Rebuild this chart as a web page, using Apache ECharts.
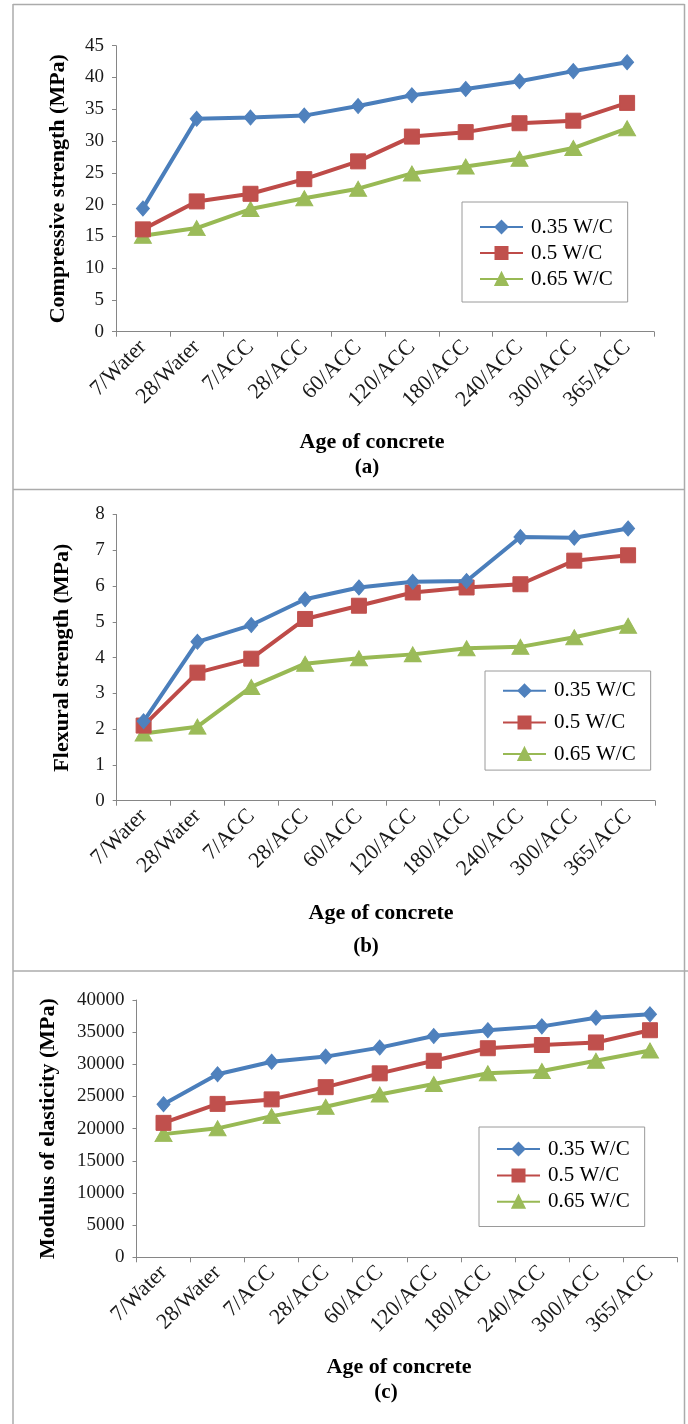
<!DOCTYPE html>
<html>
<head>
<meta charset="utf-8">
<script src="https://cdn.jsdelivr.net/npm/echarts@6/dist/echarts.min.js"></script>
<style>html,body{margin:0;padding:0;background:#fff;}#chart{width:688px;height:1424px;}</style>
</head>
<body>
<div id="chart"></div>
<script>
const categories = ['7/Water','28/Water','7/ACC','28/ACC','60/ACC','120/ACC','180/ACC','240/ACC','300/ACC','365/ACC'];
const seriesNames = ['0.35 W/C','0.5 W/C','0.65 W/C'];

const compressive035 = [19.4, 33.5, 33.7, 34.0, 35.5, 37.2, 38.2, 39.4, 41.0, 42.4];
const compressive05  = [16.1, 20.5, 21.7, 24.0, 26.8, 30.7, 31.4, 32.8, 33.2, 36.0];
const compressive065 = [15.1, 16.3, 19.3, 21.0, 22.5, 24.9, 26.0, 27.2, 28.9, 32.0];

const flexural035 = [2.22, 4.44, 4.91, 5.63, 5.96, 6.12, 6.14, 7.37, 7.35, 7.61];
const flexural05  = [2.10, 3.58, 3.97, 5.08, 5.45, 5.82, 5.96, 6.05, 6.71, 6.86];
const flexural065 = [1.88, 2.07, 3.18, 3.83, 3.98, 4.09, 4.26, 4.30, 4.57, 4.89];

const modulus035 = [23800, 28450, 30400, 31200, 32600, 34400, 35300, 35900, 37250, 37770];
const modulus05  = [20900, 23850, 24550, 26450, 28600, 30550, 32500, 33000, 33400, 35300];
const modulus065 = [19150, 20050, 21950, 23400, 25300, 26950, 28600, 28950, 30550, 32150];

const yTitles = ['Compressive strength (MPa)', 'Flexural strength (MPa)', 'Modulus of elasticity (MPa)'];
const xTitle = 'Age of concrete';
const panelTags = ['(a)', '(b)', '(c)'];
const yMax = [45, 8, 40000];
const yInterval = [5, 1, 5000];

const lineColors = ['#4A7EBB', '#BE4B48', '#98B954'];
const markColors = ['#4F81BD', '#C0504D', '#9BBB59'];
const symbols = ['diamond', 'rect', 'triangle'];
const symSizes = [[13, 15], 15, [17, 15]];
const FONT = '"Liberation Serif", "Times New Roman", serif';

const panelData = [
  [compressive035, compressive05, compressive065],
  [flexural035, flexural05, flexural065],
  [modulus035, modulus05, modulus065]
];

const grids = [
  {left: 116, width: 538, top: 45.7, height: 286},
  {left: 116.7, width: 538.3, top: 514.5, height: 286.2},
  {left: 136.5, width: 540.5, top: 1000, height: 257.3}
];
const yNameGap = [47, 43, 77];
const legendPos = [
  {left: 462, top: 202, gap: 5, padT: 14.5, padB: 12.5},
  {left: 485, top: 671, gap: 10.7, padT: 9.2, padB: 5.5},
  {left: 479, top: 1127, gap: 5.4, padT: 11.5, padB: 14.2}
];
const xTitlePos = [[372, 442], [381, 913], [399, 1367]];
const tagPos = [[367, 468], [366, 947], [386, 1393]];

const xAxes = [], yAxes = [], series = [], legends = [], graphics = [];
for (let p = 0; p < 3; p++) {
  xAxes.push({
    type: 'category', gridIndex: p, data: categories, boundaryGap: true,
    axisLine: {lineStyle: {color: '#868686', width: 1}},
    axisTick: {show: true, length: 5, lineStyle: {color: '#868686'}},
    axisLabel: {rotate: 45, margin: 12, color: '#1a1a1a', fontFamily: FONT, fontSize: 22, interval: 0}
  });
  yAxes.push({
    type: 'value', gridIndex: p, min: 0, max: yMax[p], interval: yInterval[p],
    name: yTitles[p], nameLocation: 'middle', nameGap: yNameGap[p], nameRotate: 90,
    nameTextStyle: {fontFamily: FONT, fontWeight: 'bold', fontSize: 22, color: '#000'},
    axisLine: {show: true, lineStyle: {color: '#868686', width: 1}},
    axisTick: {show: true, length: 4, lineStyle: {color: '#868686'}},
    axisLabel: {margin: 12, color: '#1a1a1a', fontFamily: FONT, fontSize: 19, formatter: function (v) { return String(v); }},
    splitLine: {show: false}
  });
  const names = [];
  for (let s = 0; s < 3; s++) {
    const nm = seriesNames[s] + (p === 0 ? '' : '\u200B'.repeat(p));
    names.push(nm);
    series.push({
      type: 'line', name: nm, xAxisIndex: p, yAxisIndex: p, data: panelData[p][s],
      symbol: symbols[s], symbolSize: symSizes[s], showAllSymbol: true,
      lineStyle: {color: lineColors[s], width: 4},
      itemStyle: {color: markColors[s], borderColor: markColors[s], borderWidth: 1},
      emphasis: {disabled: true}, animation: false, z: 3 - s + 2
    });
  }
  const lp = legendPos[p];
  legends.push({
    data: names,
    orient: 'vertical', left: lp.left, top: lp.top,
    itemWidth: 43, itemHeight: 15, itemGap: lp.gap,
    padding: [lp.padT, 15, lp.padB, 17],
    borderColor: '#9a9a9a', borderWidth: 1, backgroundColor: '#fff',
    selectedMode: false,
    textStyle: {fontFamily: FONT, fontSize: 21, color: '#000', padding: [0, 0, 0, 3]},
    formatter: function (n) { return n.replace(/\u200B/g, ''); }
  });
  graphics.push({
    type: 'text', x: xTitlePos[p][0], y: xTitlePos[p][1],
    style: {text: xTitle, font: 'bold 22px ' + FONT, fill: '#000', textAlign: 'center', textVerticalAlign: 'middle'}
  });
  graphics.push({
    type: 'text', x: tagPos[p][0], y: tagPos[p][1],
    style: {text: panelTags[p], font: 'bold 21px ' + FONT, fill: '#000', textAlign: 'center', textVerticalAlign: 'middle'}
  });
}

const border = {stroke: '#ababab', lineWidth: 1.5};
graphics.push({type: 'line', shape: {x1: 13, y1: 4, x2: 13, y2: 1424}, style: border});
graphics.push({type: 'line', shape: {x1: 684.5, y1: 4, x2: 684.5, y2: 1424}, style: border});
graphics.push({type: 'line', shape: {x1: 13, y1: 4.5, x2: 684.5, y2: 4.5}, style: border});
graphics.push({type: 'line', shape: {x1: 13, y1: 489.5, x2: 684.5, y2: 489.5}, style: border});
graphics.push({type: 'line', shape: {x1: 13, y1: 971, x2: 688, y2: 971}, style: border});

const chart = echarts.init(document.getElementById('chart'), null, {renderer: 'canvas'});
chart.setOption({
  animation: false,
  backgroundColor: '#fff',
  grid: grids,
  xAxis: xAxes,
  yAxis: yAxes,
  legend: legends,
  series: series,
  graphic: graphics
});
</script>
</body>
</html>
